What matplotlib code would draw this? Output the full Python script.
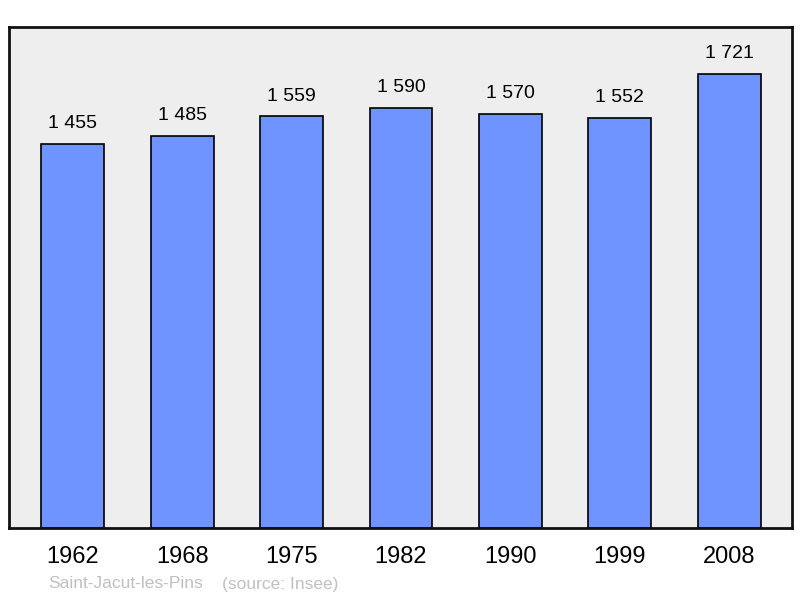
import matplotlib.pyplot as plt

years = ["1962", "1968", "1975", "1982", "1990", "1999", "2008"]
population = [1455, 1485, 1559, 1590, 1570, 1552, 1721]
value_labels = ["1 455", "1 485", "1 559", "1 590", "1 570", "1 552", "1 721"]
town = "Saint-Jacut-les-Pins"
source = "(source: Insee)"

plt.rcParams["font.family"] = ["Liberation Sans", "DejaVu Sans"]

fig = plt.figure(figsize=(8, 5.98), dpi=100)
ax = fig.add_axes([9 / 800, 1 - 528 / 598, 783 / 800, 501 / 598])
ax.set_facecolor("#eeeeee")

x = range(len(years))
ax.bar(x, population, width=0.575, color="#7094ff", edgecolor="black", linewidth=1.2)

for i, (v, lab) in enumerate(zip(population, value_labels)):
    ax.text(i, v + 45, lab, ha="center", va="bottom", fontsize=14)

ax.set_xlim(-0.584, 6.575)
ax.set_ylim(0, 1898)
ax.set_yticks([])
ax.set_xticks(list(x))
ax.set_xticklabels(years, fontsize=17)
ax.tick_params(axis="x", length=0, pad=13)
for s in ax.spines.values():
    s.set_linewidth(2)
    s.set_color("#111111")

fig.text(48 / 800, 1 - 584 / 598, town, color="#c0c0c0",
         fontsize=12.5, ha="left", va="center")
fig.text(222 / 800, 1 - 584 / 598, source, color="#c0c0c0",
         fontsize=12.5, ha="left", va="center")

fig.savefig("out.png", dpi=100)
